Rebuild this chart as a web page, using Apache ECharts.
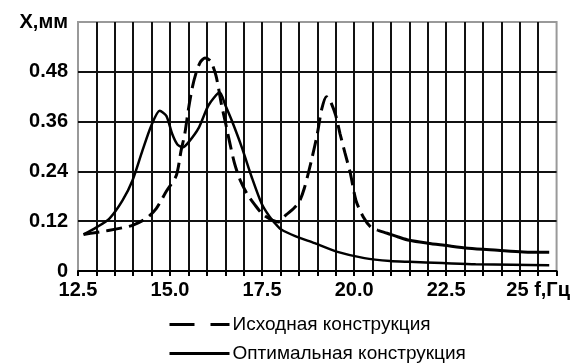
<!DOCTYPE html>
<html>
<head>
<meta charset="utf-8">
<script src="https://cdn.jsdelivr.net/npm/echarts@6/dist/echarts.min.js"></script>
<style>
html,body{margin:0;padding:0;background:#fff;}
#c{width:573px;height:364px;}
</style>
</head>
<body>
<div id="c"></div>
<script>
// X-axis tick labels (frequency, Hz)
const xTickValues = [12.5, 15, 17.5, 20, 22.5, 25];
const xTickLabels = ['12.5', '15.0', '17.5', '20.0', '22.5', '25 f,Гц'];
// Y-axis tick labels (displacement, mm)
const yTickValues = [0, 0.12, 0.24, 0.36, 0.48, 0.6];
const yTickLabels = ['0', '0.12', '0.24', '0.36', '0.48', 'X,мм'];

const seriesNames = ['Исходная конструкция', 'Оптимальная конструкция'];

// Исходная конструкция (dashed part)
const initialDashed = [
  [12.65,0.088],[13.0,0.093],[13.36,0.098],[13.7,0.104],[13.98,0.11],[14.36,0.127],
  [14.63,0.151],[14.9,0.192],[15.17,0.23],[15.3,0.29],[15.4,0.33],[15.5,0.39],
  [15.6,0.44],[15.7,0.475],[15.82,0.503],[15.95,0.513],[16.1,0.506],[16.25,0.47],
  [16.4,0.4],[16.5,0.36],[16.62,0.31],[16.75,0.26],[16.9,0.22],[17.1,0.185],
  [17.3,0.16],[17.5,0.138],[17.72,0.125],[17.95,0.118],[18.15,0.135],[18.35,0.15],
  [18.5,0.165],[18.65,0.2],[18.85,0.27],[19.0,0.33],[19.12,0.39],[19.25,0.42],
  [19.35,0.41],[19.5,0.375],[19.62,0.33],[19.75,0.285],[19.9,0.235],[20.05,0.17],
  [20.25,0.13],[20.45,0.106],[20.65,0.098]
];
// Исходная конструкция (tail, drawn continuous in the original)
const initialTail = [
  [20.65,0.098],[20.9,0.091],[21.2,0.082],[21.5,0.074],[22.0,0.067],[22.45,0.062],
  [23.1,0.055],[23.9,0.05],[24.6,0.046],[25.3,0.045]
];
// Оптимальная конструкция
const optimal = [
  [12.65,0.088],[13.0,0.105],[13.36,0.127],[13.71,0.17],[13.98,0.218],[14.25,0.29],
  [14.49,0.35],[14.72,0.386],[14.9,0.374],[15.06,0.33],[15.2,0.305],[15.35,0.298],
  [15.5,0.31],[15.78,0.345],[16.05,0.4],[16.35,0.43],[16.5,0.4],[16.68,0.362],
  [16.95,0.298],[17.22,0.226],[17.49,0.162],[17.71,0.13],[17.88,0.112],[18.02,0.1],
  [18.4,0.084],[18.93,0.067],[19.55,0.046],[20.28,0.031],[20.98,0.024],[21.5,0.022],
  [22.4,0.019],[23.3,0.016],[24.3,0.015],[25.3,0.014]
];

function lookup(values, labels, v) {
  for (let i = 0; i < values.length; i++) {
    if (Math.abs(values[i] - v) < 1e-6) return labels[i];
  }
  return '';
}

const chart = echarts.init(document.getElementById('c'), null, {renderer: 'canvas'});
const tickFont = {fontFamily: 'Liberation Sans', fontWeight: 'bold', fontSize: 20, color: '#000'};
const dash = [16, 7];
const legendBase = {
  type: 'plain', orient: 'horizontal', left: 168, itemWidth: 60, itemHeight: 14, padding: 0,
  itemStyle: {opacity: 0},
  textStyle: {fontFamily: 'Liberation Sans', fontSize: 19, color: '#000', padding: [0, 0, 0, -2]}
};

chart.setOption({
  animation: false,
  backgroundColor: '#fff',
  grid: {left: 78, right: 12, top: 22, bottom: 93, show: true, borderColor: '#999', borderWidth: 2, backgroundColor: 'transparent'},
  xAxis: {
    type: 'value', min: 12.5, max: 25.5, interval: 0.5,
    axisLine: {show: true, onZero: false, lineStyle: {color: '#000', width: 2}},
    axisTick: {show: true, length: 5, lineStyle: {color: '#000', width: 2}},
    axisLabel: Object.assign({margin: 9, formatter: v => lookup(xTickValues, xTickLabels, v)}, tickFont),
    splitLine: {show: true, showMinLine: false, showMaxLine: false, lineStyle: {color: '#111', width: 2}}
  },
  yAxis: {
    type: 'value', min: 0, max: 0.6, interval: 0.12,
    axisLine: {show: false},
    axisTick: {show: false},
    axisLabel: Object.assign({margin: 10, formatter: v => lookup(yTickValues, yTickLabels, v)}, tickFont),
    splitLine: {show: true, showMinLine: false, showMaxLine: false, lineStyle: {color: '#111', width: 2}}
  },
  legend: [
    Object.assign({}, legendBase, {top: 315, data: [
      {name: seriesNames[0], lineStyle: {type: [25, 16], width: 3, color: '#000'}}
    ]}),
    Object.assign({}, legendBase, {top: 344, data: [
      {name: seriesNames[1], lineStyle: {type: 'solid', width: 3, color: '#000'}}
    ]})
  ],
  series: [
    {name: seriesNames[0], type: 'line', data: initialDashed, symbol: 'none', smooth: 0.25,
     lineStyle: {color: '#000', width: 3, type: dash}, itemStyle: {color: '#000'}},
    {name: 'tail', type: 'line', data: initialTail, symbol: 'none', smooth: 0.3, silent: true,
     lineStyle: {color: '#000', width: 3, type: 'solid'}, itemStyle: {color: '#000'}},
    {name: seriesNames[1], type: 'line', data: optimal, symbol: 'none', smooth: 0.25,
     lineStyle: {color: '#000', width: 2.5, type: 'solid'}, itemStyle: {color: '#000'}}
  ]
});
</script>
</body>
</html>
